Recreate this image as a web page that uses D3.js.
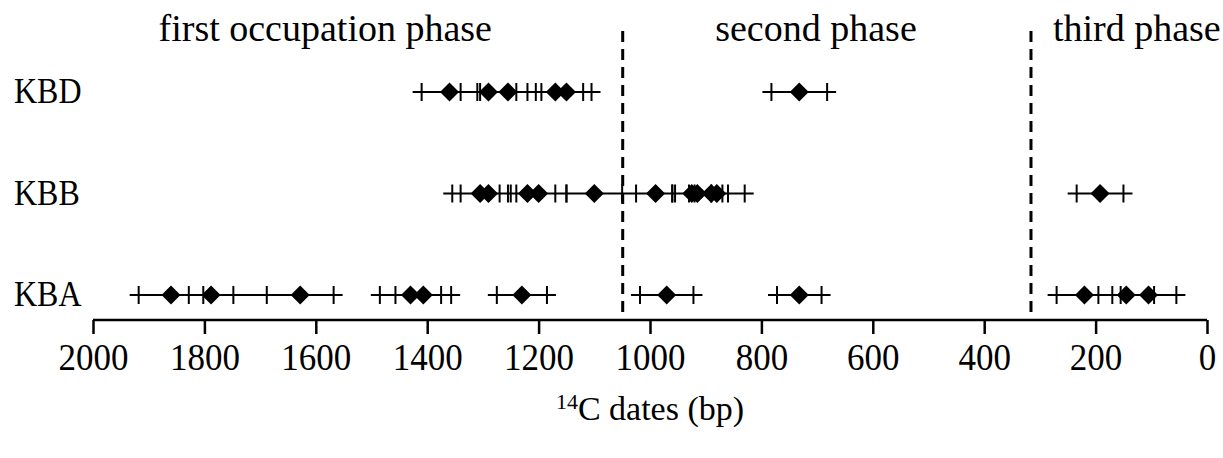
<!DOCTYPE html>
<html>
<head>
<meta charset="utf-8">
<script src="https://cdn.jsdelivr.net/npm/d3@7"></script>
<style>
  body { margin: 0; background: #fff; }
  svg text { font-family: "Liberation Serif", "Times New Roman", serif; fill: #000; }
</style>
</head>
<body>
<svg id="chart" width="1223" height="458"></svg>
<script>
// ---- data ----
const rows = ["KBD", "KBB", "KBA"];
const kbdDates  = [1360, 1290, 1255, 1170, 1150, 732];
const kbdErrors = [50, 50, 50, 50, 45, 50];
const kbdGroups = [[0, 1, 2, 3, 4], [5]];
const kbbDates  = [1305, 1290, 1220, 1200, 1100, 990, 925, 915, 890, 880, 192];
const kbbErrors = [50, 50, 50, 50, 50, 35, 35, 45, 30, 50, 42];
const kbbGroups = [[0, 1, 2, 3, 4, 5, 6, 7, 8, 9], [10]];
const kbaDates  = [1860, 1788, 1628, 1430, 1407, 1230, 970, 732, 220, 145, 105];
const kbaErrors = [58, 40, 60, 55, 50, 45, 48, 40, 50, 50, 50];
const kbaGroups = [[0, 1, 2], [3, 4], [5], [6], [7], [8, 9, 10]];
const phaseBoundaries = [1049, 316];
const phaseLabels = ["first occupation phase", "second phase", "third phase"];
const phaseLabelCenters = [1583, 702, 126];
const xTicks = [2000, 1800, 1600, 1400, 1200, 1000, 800, 600, 400, 200, 0];

const series = [
  { row: "KBD", dates: kbdDates, errors: kbdErrors, groups: kbdGroups },
  { row: "KBB", dates: kbbDates, errors: kbbErrors, groups: kbbGroups },
  { row: "KBA", dates: kbaDates, errors: kbaErrors, groups: kbaGroups }
];

// ---- layout ----
const svg = d3.select("#chart");
const x = d3.scaleLinear().domain([2000, 0]).range([93, 1207]);
const y = d3.scalePoint().domain(rows).range([92, 295]);
const axisY = 320;
const arm = 9, tickH = 9, dia = 9.5;

// phase boundaries (dashed)
svg.selectAll("line.phase").data(phaseBoundaries).join("line")
  .attr("x1", d => x(d)).attr("x2", d => x(d))
  .attr("y1", 31).attr("y2", axisY)
  .attr("stroke", "#000").attr("stroke-width", 3)
  .attr("stroke-dasharray", "11,7");

// phase labels
svg.selectAll("text.phase").data(phaseLabels).join("text")
  .attr("x", (d, i) => x(phaseLabelCenters[i]))
  .attr("y", 41)
  .attr("text-anchor", "middle")
  .attr("font-size", 38)
  .text(d => d);

// row labels
svg.selectAll("text.row").data(rows).join("text")
  .attr("transform", d => `translate(14,${y(d) + 11}) scale(1,1.1)`)
  .attr("font-size", 32)
  .text(d => d);

// data marks
series.forEach(s => {
  const g = svg.append("g");
  const pts = s.dates.map((d, i) => ({ v: d, e: s.errors[i] }));
  const yy = y(s.row);
  g.selectAll("line.err").data(s.groups).join("line")
    .attr("x1", grp => x(d3.max(grp, i => pts[i].v + pts[i].e)) - arm)
    .attr("x2", grp => x(d3.min(grp, i => pts[i].v - pts[i].e)) + arm)
    .attr("y1", yy).attr("y2", yy)
    .attr("stroke", "#000").attr("stroke-width", 2);
  const ends = pts.flatMap(d => [d.v + d.e, d.v - d.e]);
  g.selectAll("line.tick").data(ends).join("line")
    .attr("x1", d => x(d)).attr("x2", d => x(d))
    .attr("y1", yy - tickH).attr("y2", yy + tickH)
    .attr("stroke", "#000").attr("stroke-width", 2);
  g.selectAll("path.dia").data(pts).join("path")
    .attr("d", d => {
      const cx = x(d.v);
      return `M${cx},${yy - dia}L${cx + dia},${yy}L${cx},${yy + dia}L${cx - dia},${yy}Z`;
    })
    .attr("fill", "#000");
});

// x axis
const axis = d3.axisBottom(x).tickValues(xTicks).tickSize(14).tickFormat(d3.format("d"));
const ax = svg.append("g").attr("transform", `translate(0,${axisY})`).call(axis);
ax.select(".domain").attr("stroke", "#000").attr("stroke-width", 2.5).attr("d", `M${x(2000)},0H${x(0)}`);
ax.selectAll(".tick line").attr("stroke", "#000").attr("stroke-width", 2.5);
ax.selectAll(".tick text")
  .attr("y", 0).attr("dy", 0)
  .attr("transform", "translate(0,50) scale(1,1.1)")
  .attr("font-size", 35)
  .attr("font-family", "Liberation Serif, Times New Roman, serif")
  .attr("fill", "#000");

// axis title
const title = svg.append("text")
  .attr("x", x(1000)).attr("y", 420)
  .attr("text-anchor", "middle")
  .attr("font-size", 34);
title.append("tspan").attr("font-size", 22).attr("dy", -11).text("14");
title.append("tspan").attr("dy", 11).text("C dates (bp)");
</script>
</body>
</html>
